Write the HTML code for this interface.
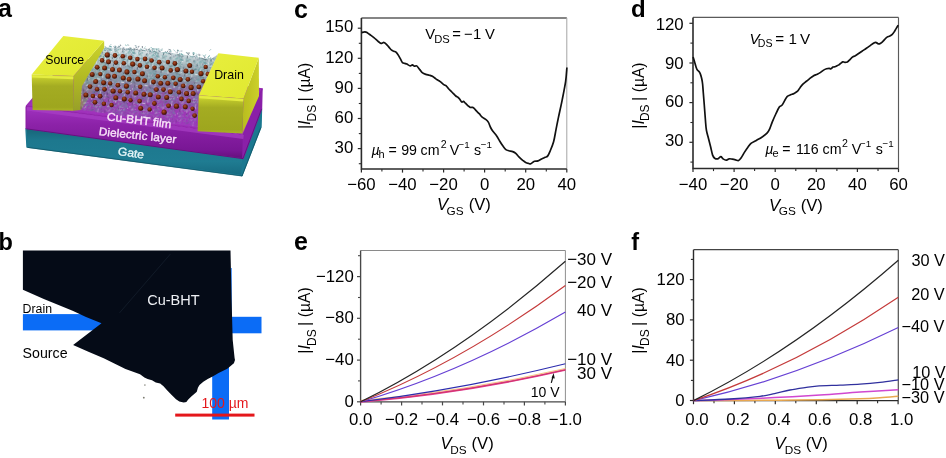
<!DOCTYPE html><html><head><meta charset="utf-8"><style>html,body{margin:0;padding:0;background:#fff;overflow:hidden;}svg{display:block;font-family:"Liberation Sans", sans-serif;will-change:transform;}</style></head><body>
<svg width="946" height="458" viewBox="0 0 946 458">
<rect width="946" height="458" fill="#fff"/>
<text x="-1.90" y="16.50" font-size="25.0" font-weight="bold">a</text>
<text x="-1.60" y="249.80" font-size="23.5" font-weight="bold">b</text>
<text x="293.90" y="17.80" font-size="25.0" font-weight="bold">c</text>
<text x="631.00" y="17.00" font-size="24.0" font-weight="bold">d</text>
<text x="293.90" y="250.00" font-size="25.0" font-weight="bold">e</text>
<text x="631.30" y="250.40" font-size="23.5" font-weight="bold">f</text>
<defs>
<linearGradient id="gTealF" x1="0" y1="0" x2="0" y2="1"><stop offset="0" stop-color="#176478"/><stop offset="0.25" stop-color="#1d788e"/><stop offset="0.7" stop-color="#1f7c92"/><stop offset="1" stop-color="#176a80"/></linearGradient>
<linearGradient id="gPurF" x1="0" y1="0" x2="0" y2="1"><stop offset="0" stop-color="#a032c0"/><stop offset="0.35" stop-color="#8c22a8"/><stop offset="0.85" stop-color="#781694"/><stop offset="1" stop-color="#640e7c"/></linearGradient>
<linearGradient id="gPurT" x1="0" y1="0" x2="0" y2="1"><stop offset="0" stop-color="#9a2db4"/><stop offset="1" stop-color="#a234be"/></linearGradient>
<linearGradient id="gYT" x1="0" y1="0" x2="1" y2="1"><stop offset="0" stop-color="#e8ef3e"/><stop offset="1" stop-color="#e0e830"/></linearGradient>
<linearGradient id="gYF" x1="0" y1="0" x2="0" y2="1"><stop offset="0" stop-color="#d8e036"/><stop offset="0.14" stop-color="#bcc42a"/><stop offset="0.32" stop-color="#a4ac22"/><stop offset="0.9" stop-color="#9ea61e"/><stop offset="1" stop-color="#acb424"/></linearGradient>
<linearGradient id="gYR" x1="0" y1="0" x2="1" y2="0"><stop offset="0" stop-color="#b8bc1e"/><stop offset="1" stop-color="#ccd02a"/></linearGradient>
<radialGradient id="gDot" cx="0.4" cy="0.35" r="0.65"><stop offset="0" stop-color="#a85028"/><stop offset="0.5" stop-color="#7c2a10"/><stop offset="0.85" stop-color="#4a1606"/><stop offset="1" stop-color="#2e0c04"/></radialGradient>
</defs>
<polygon points="26.0,128.7 243.0,158.5 242.0,175.5 27.0,147.0" fill="url(#gTealF)" stroke="#1c7890" stroke-width="1.4" stroke-linejoin="round"/>
<polygon points="243.0,158.5 261.5,109.0 261.0,127.0 242.0,175.5" fill="#1b7890" stroke="#1b7890" stroke-width="1.4" stroke-linejoin="round"/>
<polygon points="26.5,106.0 32.5,99.0 70.0,57.0 262.0,89.0 243.5,134.0" fill="url(#gPurT)" stroke="#9a2db4" stroke-width="1.5" stroke-linejoin="round"/>
<polygon points="26.0,106.5 243.5,135.0 243.0,158.5 26.0,128.7" fill="url(#gPurF)" stroke="#8a1ca2" stroke-width="1" stroke-linejoin="round"/>
<polygon points="243.5,134.5 262.0,89.0 261.5,109.0 243.0,158.5" fill="#8a20a8" stroke="#8a20a8" stroke-width="1.4" stroke-linejoin="round"/>
<path d="M26.5,128.9 L243,158.6 L261.5,109.2" stroke="#4e0c66" stroke-width="1" opacity="0.6" fill="none"/>
<path d="M27.5,147.4 L242,176 L260.8,127.5" stroke="#10505e" stroke-width="1" opacity="0.7" fill="none"/>
<path d="M27,108.5 L243.5,137" stroke="#a83ec4" stroke-width="4" opacity="0.7" fill="none"/>
<defs><linearGradient id="gYR2" gradientUnits="userSpaceOnUse" x1="0" y1="40" x2="0" y2="110"><stop offset="0" stop-color="#cdd42c"/><stop offset="0.5" stop-color="#b4bc24"/><stop offset="1" stop-color="#98a028"/></linearGradient></defs>
<polygon points="73.5,76.0 104.1,40.8 105.0,72.0 81.0,110.0 73.0,110.8" fill="url(#gYR2)" />
<defs><linearGradient id="gFilm" gradientUnits="userSpaceOnUse" x1="0" y1="44" x2="0" y2="124"><stop offset="0" stop-color="#e4ecee" stop-opacity="0.85"/><stop offset="0.25" stop-color="#aabcc2" stop-opacity="0.95"/><stop offset="0.45" stop-color="#8a96a4" stop-opacity="0.95"/><stop offset="0.62" stop-color="#8a5aa2" stop-opacity="0.85"/><stop offset="1" stop-color="#9a40b0" stop-opacity="0.0"/></linearGradient></defs>
<polygon points="82.0,86.0 104.5,47.5 128.0,48.5 150.0,50.5 180.0,54.0 210.7,59.2 218.4,54.0 198.7,95.2 197.6,127.0 170.0,123.0 140.0,118.5 110.0,114.0 80.0,110.0" fill="url(#gFilm)" />
<defs><pattern id="spk" width="24" height="18" patternUnits="userSpaceOnUse" patternTransform="rotate(8)"><line x1="5.7" y1="9.8" x2="6.7" y2="12.0" stroke="#5f9ea0" stroke-width="0.8"/><line x1="14.5" y1="16.4" x2="14.8" y2="18.6" stroke="#a8c4c4" stroke-width="0.8"/><line x1="23.9" y1="8.5" x2="22.0" y2="9.5" stroke="#7c8c9c" stroke-width="0.8"/><line x1="5.6" y1="2.7" x2="3.6" y2="3.2" stroke="#4f8f94" stroke-width="0.8"/><line x1="16.1" y1="1.2" x2="14.4" y2="2.8" stroke="#ffffff" stroke-width="0.8"/><line x1="18.7" y1="14.8" x2="20.3" y2="16.6" stroke="#6aa8a8" stroke-width="0.8"/><line x1="17.1" y1="16.6" x2="18.0" y2="19.2" stroke="#8a9aa8" stroke-width="0.8"/><line x1="23.1" y1="2.4" x2="23.7" y2="3.6" stroke="#8a9aa8" stroke-width="0.8"/><line x1="5.2" y1="17.4" x2="5.7" y2="19.8" stroke="#ffffff" stroke-width="0.8"/><line x1="10.1" y1="15.0" x2="9.6" y2="17.2" stroke="#6aa8a8" stroke-width="0.8"/><line x1="14.0" y1="16.3" x2="12.4" y2="18.8" stroke="#ffffff" stroke-width="0.8"/><line x1="23.8" y1="12.1" x2="26.3" y2="13.5" stroke="#c8dcdc" stroke-width="0.8"/><line x1="21.7" y1="10.2" x2="20.7" y2="11.5" stroke="#ffffff" stroke-width="0.8"/><line x1="6.8" y1="1.1" x2="4.0" y2="2.6" stroke="#5f9ea0" stroke-width="0.8"/><line x1="8.3" y1="1.2" x2="7.1" y2="1.6" stroke="#6aa8a8" stroke-width="0.8"/><line x1="18.5" y1="15.7" x2="20.9" y2="16.0" stroke="#4f8f94" stroke-width="0.8"/><line x1="9.1" y1="10.6" x2="8.6" y2="13.6" stroke="#ffffff" stroke-width="0.8"/><line x1="12.1" y1="18.0" x2="12.9" y2="19.1" stroke="#c8dcdc" stroke-width="0.8"/><line x1="0.8" y1="3.6" x2="1.4" y2="5.9" stroke="#7c8c9c" stroke-width="0.8"/><line x1="16.6" y1="17.6" x2="17.5" y2="19.3" stroke="#7c8c9c" stroke-width="0.8"/><line x1="21.5" y1="6.8" x2="21.8" y2="9.0" stroke="#c8dcdc" stroke-width="0.8"/><line x1="2.5" y1="17.5" x2="1.0" y2="18.5" stroke="#a8c4c4" stroke-width="0.8"/><line x1="22.5" y1="7.9" x2="23.7" y2="9.2" stroke="#3a4a58" stroke-width="0.8"/><line x1="0.3" y1="7.5" x2="-0.0" y2="8.7" stroke="#7c8c9c" stroke-width="0.8"/><line x1="1.4" y1="11.3" x2="1.7" y2="13.8" stroke="#3a4a58" stroke-width="0.8"/><line x1="14.6" y1="5.0" x2="14.7" y2="7.4" stroke="#4f8f94" stroke-width="0.8"/><line x1="23.1" y1="4.5" x2="23.4" y2="6.9" stroke="#3a4a58" stroke-width="0.8"/><line x1="4.3" y1="3.3" x2="2.2" y2="5.3" stroke="#ffffff" stroke-width="0.8"/><line x1="7.2" y1="6.8" x2="6.3" y2="7.6" stroke="#7c8c9c" stroke-width="0.8"/><line x1="7.4" y1="4.0" x2="6.1" y2="5.0" stroke="#7c8c9c" stroke-width="0.8"/><line x1="16.3" y1="11.7" x2="18.6" y2="12.4" stroke="#3a4a58" stroke-width="0.8"/><line x1="16.2" y1="4.0" x2="13.6" y2="5.8" stroke="#5f9ea0" stroke-width="0.8"/><line x1="8.1" y1="11.7" x2="6.1" y2="12.4" stroke="#a8c4c4" stroke-width="0.8"/><line x1="18.9" y1="0.6" x2="17.1" y2="0.9" stroke="#7c8c9c" stroke-width="0.8"/><line x1="20.7" y1="6.1" x2="19.6" y2="6.8" stroke="#3a4a58" stroke-width="0.8"/><line x1="14.1" y1="7.6" x2="14.0" y2="10.5" stroke="#8a9aa8" stroke-width="0.8"/><line x1="8.3" y1="7.5" x2="8.8" y2="9.5" stroke="#6aa8a8" stroke-width="0.8"/><line x1="3.7" y1="0.1" x2="0.8" y2="0.6" stroke="#c8dcdc" stroke-width="0.8"/><line x1="10.4" y1="17.1" x2="8.8" y2="17.5" stroke="#8a9aa8" stroke-width="0.8"/><line x1="20.1" y1="11.9" x2="20.0" y2="13.7" stroke="#3a4a58" stroke-width="0.8"/><line x1="21.4" y1="15.5" x2="18.5" y2="16.9" stroke="#5f9ea0" stroke-width="0.8"/><line x1="19.4" y1="0.8" x2="17.0" y2="1.6" stroke="#a8c4c4" stroke-width="0.8"/><line x1="21.5" y1="16.2" x2="21.2" y2="17.4" stroke="#5f9ea0" stroke-width="0.8"/><line x1="4.1" y1="5.4" x2="3.0" y2="7.4" stroke="#6aa8a8" stroke-width="0.8"/><line x1="1.3" y1="16.4" x2="2.6" y2="16.9" stroke="#c8dcdc" stroke-width="0.8"/><line x1="11.5" y1="14.1" x2="12.2" y2="15.5" stroke="#c8dcdc" stroke-width="0.8"/><line x1="21.3" y1="2.1" x2="22.6" y2="3.3" stroke="#7c8c9c" stroke-width="0.8"/><line x1="19.8" y1="0.1" x2="18.6" y2="2.8" stroke="#4f8f94" stroke-width="0.8"/><line x1="18.2" y1="4.5" x2="17.3" y2="6.6" stroke="#4f8f94" stroke-width="0.8"/><line x1="11.3" y1="14.0" x2="12.7" y2="14.0" stroke="#7c8c9c" stroke-width="0.8"/><line x1="1.1" y1="0.9" x2="1.2" y2="2.2" stroke="#5f9ea0" stroke-width="0.8"/><line x1="12.4" y1="8.8" x2="13.6" y2="9.5" stroke="#6aa8a8" stroke-width="0.8"/><line x1="15.5" y1="10.6" x2="16.2" y2="12.0" stroke="#3a4a58" stroke-width="0.8"/><line x1="10.3" y1="2.3" x2="12.9" y2="2.3" stroke="#5f9ea0" stroke-width="0.8"/><line x1="13.6" y1="0.8" x2="13.9" y2="3.3" stroke="#c8dcdc" stroke-width="0.8"/><line x1="9.1" y1="14.4" x2="8.3" y2="16.3" stroke="#3a4a58" stroke-width="0.8"/><line x1="15.1" y1="13.7" x2="16.8" y2="16.3" stroke="#6aa8a8" stroke-width="0.8"/><line x1="11.1" y1="4.4" x2="10.8" y2="7.0" stroke="#5f9ea0" stroke-width="0.8"/><line x1="19.3" y1="4.0" x2="20.4" y2="4.5" stroke="#3a4a58" stroke-width="0.8"/><line x1="9.0" y1="16.2" x2="7.6" y2="17.2" stroke="#8a9aa8" stroke-width="0.8"/><line x1="16.6" y1="16.9" x2="14.6" y2="19.1" stroke="#c8dcdc" stroke-width="0.8"/><line x1="19.0" y1="12.0" x2="17.5" y2="13.7" stroke="#5f9ea0" stroke-width="0.8"/><line x1="19.5" y1="12.9" x2="19.6" y2="14.6" stroke="#6aa8a8" stroke-width="0.8"/><line x1="1.1" y1="1.7" x2="3.9" y2="2.6" stroke="#7c8c9c" stroke-width="0.8"/><line x1="19.7" y1="6.1" x2="18.5" y2="6.7" stroke="#5f9ea0" stroke-width="0.8"/><line x1="16.2" y1="15.1" x2="13.8" y2="15.4" stroke="#5f9ea0" stroke-width="0.8"/><line x1="0.9" y1="13.8" x2="0.8" y2="16.4" stroke="#5f9ea0" stroke-width="0.8"/><line x1="13.3" y1="1.8" x2="12.9" y2="4.1" stroke="#7c8c9c" stroke-width="0.8"/><line x1="19.9" y1="4.4" x2="21.3" y2="5.3" stroke="#6aa8a8" stroke-width="0.8"/><line x1="6.1" y1="10.8" x2="3.8" y2="11.2" stroke="#5f9ea0" stroke-width="0.8"/><line x1="9.0" y1="4.2" x2="6.2" y2="4.9" stroke="#7c8c9c" stroke-width="0.8"/><line x1="10.0" y1="10.2" x2="9.2" y2="13.2" stroke="#8a9aa8" stroke-width="0.8"/><line x1="3.7" y1="7.2" x2="2.3" y2="7.7" stroke="#8a9aa8" stroke-width="0.8"/><line x1="18.0" y1="16.5" x2="17.8" y2="18.6" stroke="#7c8c9c" stroke-width="0.8"/><line x1="3.3" y1="13.5" x2="5.3" y2="14.5" stroke="#a8c4c4" stroke-width="0.8"/><line x1="20.4" y1="9.7" x2="18.5" y2="11.3" stroke="#6aa8a8" stroke-width="0.8"/><line x1="14.3" y1="10.5" x2="11.3" y2="10.7" stroke="#ffffff" stroke-width="0.8"/><line x1="0.6" y1="8.6" x2="1.1" y2="10.1" stroke="#3a4a58" stroke-width="0.8"/><line x1="5.7" y1="8.7" x2="3.9" y2="9.5" stroke="#8a9aa8" stroke-width="0.8"/><line x1="16.8" y1="3.7" x2="16.1" y2="6.6" stroke="#c8dcdc" stroke-width="0.8"/><line x1="0.7" y1="17.9" x2="3.7" y2="18.6" stroke="#4f8f94" stroke-width="0.8"/><line x1="11.2" y1="4.1" x2="13.2" y2="5.9" stroke="#5f9ea0" stroke-width="0.8"/><line x1="23.0" y1="15.4" x2="24.2" y2="16.5" stroke="#ffffff" stroke-width="0.8"/><line x1="3.3" y1="11.2" x2="2.6" y2="12.3" stroke="#ffffff" stroke-width="0.8"/><line x1="4.1" y1="0.8" x2="5.2" y2="1.6" stroke="#5f9ea0" stroke-width="0.8"/><line x1="2.8" y1="4.8" x2="1.6" y2="5.1" stroke="#8a9aa8" stroke-width="0.8"/><line x1="13.9" y1="12.2" x2="15.8" y2="12.2" stroke="#6aa8a8" stroke-width="0.8"/><line x1="9.1" y1="1.4" x2="7.9" y2="3.8" stroke="#8a9aa8" stroke-width="0.8"/><line x1="9.4" y1="9.8" x2="11.0" y2="10.4" stroke="#6aa8a8" stroke-width="0.8"/><line x1="2.7" y1="16.0" x2="1.4" y2="16.4" stroke="#3a4a58" stroke-width="0.8"/><line x1="16.3" y1="6.6" x2="16.7" y2="9.1" stroke="#ffffff" stroke-width="0.8"/><line x1="2.6" y1="17.0" x2="3.7" y2="19.0" stroke="#c8dcdc" stroke-width="0.8"/><line x1="2.7" y1="8.9" x2="3.9" y2="11.2" stroke="#7c8c9c" stroke-width="0.8"/><line x1="15.5" y1="13.1" x2="17.2" y2="14.0" stroke="#8a9aa8" stroke-width="0.8"/><line x1="3.0" y1="16.8" x2="4.6" y2="17.6" stroke="#6aa8a8" stroke-width="0.8"/><line x1="13.3" y1="11.7" x2="13.6" y2="13.5" stroke="#7c8c9c" stroke-width="0.8"/><line x1="16.9" y1="1.9" x2="18.9" y2="3.2" stroke="#6aa8a8" stroke-width="0.8"/><line x1="8.6" y1="4.8" x2="9.7" y2="7.5" stroke="#4f8f94" stroke-width="0.8"/><line x1="11.5" y1="4.9" x2="10.2" y2="6.7" stroke="#3a4a58" stroke-width="0.8"/><line x1="22.7" y1="8.1" x2="21.6" y2="8.8" stroke="#8a9aa8" stroke-width="0.8"/><line x1="20.3" y1="2.0" x2="21.2" y2="3.1" stroke="#5f9ea0" stroke-width="0.8"/><line x1="13.5" y1="16.4" x2="16.0" y2="17.3" stroke="#6aa8a8" stroke-width="0.8"/><line x1="16.1" y1="7.0" x2="14.6" y2="7.1" stroke="#7c8c9c" stroke-width="0.8"/><line x1="20.6" y1="14.4" x2="20.4" y2="15.9" stroke="#7c8c9c" stroke-width="0.8"/><line x1="4.8" y1="4.5" x2="3.9" y2="5.3" stroke="#8a9aa8" stroke-width="0.8"/><line x1="21.4" y1="17.1" x2="22.2" y2="19.2" stroke="#ffffff" stroke-width="0.8"/><line x1="15.2" y1="17.6" x2="14.2" y2="19.1" stroke="#8a9aa8" stroke-width="0.8"/><line x1="0.7" y1="3.4" x2="0.1" y2="4.7" stroke="#a8c4c4" stroke-width="0.8"/><line x1="11.8" y1="9.4" x2="12.0" y2="11.0" stroke="#c8dcdc" stroke-width="0.8"/><line x1="5.1" y1="14.6" x2="2.1" y2="15.3" stroke="#5f9ea0" stroke-width="0.8"/><line x1="13.6" y1="17.3" x2="12.2" y2="17.8" stroke="#5f9ea0" stroke-width="0.8"/><line x1="15.0" y1="0.9" x2="15.7" y2="2.4" stroke="#5f9ea0" stroke-width="0.8"/><line x1="12.0" y1="0.3" x2="12.9" y2="2.0" stroke="#3a4a58" stroke-width="0.8"/><line x1="16.7" y1="2.4" x2="14.5" y2="3.5" stroke="#4f8f94" stroke-width="0.8"/><line x1="17.2" y1="13.3" x2="18.5" y2="15.8" stroke="#5f9ea0" stroke-width="0.8"/><line x1="20.7" y1="7.9" x2="19.1" y2="9.4" stroke="#5f9ea0" stroke-width="0.8"/><line x1="18.9" y1="7.4" x2="16.6" y2="8.6" stroke="#6aa8a8" stroke-width="0.8"/><line x1="11.9" y1="12.6" x2="11.7" y2="14.6" stroke="#8a9aa8" stroke-width="0.8"/><line x1="7.3" y1="8.4" x2="5.9" y2="9.7" stroke="#7c8c9c" stroke-width="0.8"/><line x1="10.9" y1="0.7" x2="12.9" y2="2.8" stroke="#8a9aa8" stroke-width="0.8"/></pattern><linearGradient id="gFade" gradientUnits="userSpaceOnUse" x1="0" y1="44" x2="0" y2="126"><stop offset="0" stop-color="#fff"/><stop offset="0.6" stop-color="#fff" stop-opacity="0.9"/><stop offset="1" stop-color="#fff" stop-opacity="0.35"/></linearGradient><mask id="mFade"><rect x="60" y="30" width="170" height="110" fill="url(#gFade)"/></mask></defs>
<g mask="url(#mFade)"><polygon points="82.0,86.0 104.5,47.5 128.0,48.5 150.0,50.5 180.0,54.0 210.7,59.2 218.4,54.0 198.7,95.2 197.6,127.0 170.0,123.0 140.0,118.5 110.0,114.0 80.0,110.0" fill="url(#spk)" opacity="0.95"/></g>
<line x1="161.2" y1="49.8" x2="161.9" y2="50.5" stroke="#9fb8bc" stroke-width="0.75"/><line x1="131.9" y1="48.0" x2="130.3" y2="48.8" stroke="#9fb8bc" stroke-width="0.75"/><line x1="126.6" y1="48.6" x2="127.0" y2="49.8" stroke="#5f8f94" stroke-width="0.75"/><line x1="119.0" y1="46.1" x2="119.3" y2="47.4" stroke="#5f8f94" stroke-width="0.75"/><line x1="147.5" y1="49.7" x2="149.7" y2="49.9" stroke="#9fb8bc" stroke-width="0.75"/><line x1="147.6" y1="49.3" x2="150.1" y2="49.5" stroke="#9fb8bc" stroke-width="0.75"/><line x1="130.1" y1="47.7" x2="131.4" y2="48.6" stroke="#5f8f94" stroke-width="0.75"/><line x1="141.4" y1="50.1" x2="143.5" y2="50.5" stroke="#5a6a76" stroke-width="0.75"/><line x1="210.0" y1="55.4" x2="208.0" y2="56.9" stroke="#6aa8a8" stroke-width="0.75"/><line x1="131.0" y1="48.4" x2="129.3" y2="49.5" stroke="#5a6a76" stroke-width="0.75"/><line x1="138.2" y1="50.1" x2="138.5" y2="51.3" stroke="#8a9aa8" stroke-width="0.75"/><line x1="104.4" y1="50.3" x2="105.6" y2="50.6" stroke="#5f8f94" stroke-width="0.75"/><line x1="156.0" y1="51.3" x2="156.0" y2="52.8" stroke="#6aa8a8" stroke-width="0.75"/><line x1="140.7" y1="48.3" x2="141.6" y2="50.1" stroke="#6aa8a8" stroke-width="0.75"/><line x1="136.9" y1="47.3" x2="135.8" y2="47.5" stroke="#5a6a76" stroke-width="0.75"/><line x1="123.9" y1="47.3" x2="123.8" y2="49.1" stroke="#8a9aa8" stroke-width="0.75"/><line x1="177.4" y1="50.1" x2="179.3" y2="51.2" stroke="#6aa8a8" stroke-width="0.75"/><line x1="194.3" y1="54.6" x2="192.7" y2="55.0" stroke="#6aa8a8" stroke-width="0.75"/><line x1="151.4" y1="49.4" x2="150.4" y2="50.7" stroke="#9fb8bc" stroke-width="0.75"/><line x1="158.8" y1="48.8" x2="156.7" y2="49.3" stroke="#6aa8a8" stroke-width="0.75"/><line x1="108.6" y1="47.8" x2="107.0" y2="49.4" stroke="#5f8f94" stroke-width="0.75"/><line x1="185.9" y1="52.6" x2="187.2" y2="53.0" stroke="#5f8f94" stroke-width="0.75"/><line x1="198.9" y1="53.8" x2="199.3" y2="56.2" stroke="#5a6a76" stroke-width="0.75"/><line x1="211.7" y1="58.2" x2="213.5" y2="59.5" stroke="#5f8f94" stroke-width="0.75"/><line x1="140.6" y1="49.1" x2="140.9" y2="51.4" stroke="#9fb8bc" stroke-width="0.75"/><line x1="130.0" y1="49.4" x2="131.8" y2="50.4" stroke="#8a9aa8" stroke-width="0.75"/><line x1="210.4" y1="59.6" x2="211.2" y2="60.6" stroke="#8a9aa8" stroke-width="0.75"/><line x1="159.7" y1="50.1" x2="158.2" y2="50.5" stroke="#8a9aa8" stroke-width="0.75"/><line x1="188.5" y1="54.1" x2="188.1" y2="55.1" stroke="#5f8f94" stroke-width="0.75"/><line x1="168.6" y1="49.4" x2="171.0" y2="50.2" stroke="#5a6a76" stroke-width="0.75"/><line x1="113.3" y1="46.5" x2="115.0" y2="48.0" stroke="#8a9aa8" stroke-width="0.75"/><line x1="115.8" y1="46.6" x2="114.7" y2="48.4" stroke="#6aa8a8" stroke-width="0.75"/><line x1="169.1" y1="51.5" x2="171.3" y2="52.3" stroke="#8a9aa8" stroke-width="0.75"/><line x1="151.9" y1="49.8" x2="152.9" y2="50.2" stroke="#5a6a76" stroke-width="0.75"/><line x1="182.6" y1="55.1" x2="183.4" y2="56.6" stroke="#5f8f94" stroke-width="0.75"/><line x1="203.8" y1="55.6" x2="204.7" y2="57.7" stroke="#5f8f94" stroke-width="0.75"/><line x1="169.4" y1="52.7" x2="170.6" y2="55.0" stroke="#5a6a76" stroke-width="0.75"/><line x1="129.5" y1="47.4" x2="130.6" y2="48.5" stroke="#9fb8bc" stroke-width="0.75"/><line x1="182.4" y1="51.0" x2="180.5" y2="51.1" stroke="#8a9aa8" stroke-width="0.75"/><line x1="196.1" y1="55.9" x2="197.7" y2="57.0" stroke="#6aa8a8" stroke-width="0.75"/><line x1="156.3" y1="48.4" x2="157.0" y2="50.9" stroke="#5f8f94" stroke-width="0.75"/><line x1="135.5" y1="45.5" x2="136.5" y2="46.1" stroke="#9fb8bc" stroke-width="0.75"/><line x1="135.8" y1="47.6" x2="135.3" y2="48.6" stroke="#9fb8bc" stroke-width="0.75"/><line x1="133.8" y1="47.9" x2="134.8" y2="49.8" stroke="#5a6a76" stroke-width="0.75"/><line x1="119.4" y1="46.9" x2="117.8" y2="47.4" stroke="#9fb8bc" stroke-width="0.75"/><line x1="120.5" y1="45.4" x2="119.0" y2="47.4" stroke="#5a6a76" stroke-width="0.75"/><line x1="205.8" y1="57.2" x2="204.1" y2="57.5" stroke="#8a9aa8" stroke-width="0.75"/><line x1="128.0" y1="44.7" x2="128.7" y2="45.5" stroke="#5a6a76" stroke-width="0.75"/><line x1="199.8" y1="54.3" x2="200.6" y2="55.4" stroke="#8a9aa8" stroke-width="0.75"/><line x1="105.1" y1="47.9" x2="104.9" y2="49.7" stroke="#9fb8bc" stroke-width="0.75"/><line x1="206.6" y1="59.5" x2="204.3" y2="59.6" stroke="#5a6a76" stroke-width="0.75"/><line x1="209.8" y1="56.1" x2="208.7" y2="56.2" stroke="#9fb8bc" stroke-width="0.75"/><line x1="129.8" y1="48.3" x2="127.6" y2="49.0" stroke="#8a9aa8" stroke-width="0.75"/><line x1="163.0" y1="52.5" x2="163.7" y2="53.7" stroke="#6aa8a8" stroke-width="0.75"/><line x1="149.2" y1="50.1" x2="150.8" y2="50.4" stroke="#9fb8bc" stroke-width="0.75"/><line x1="202.6" y1="54.8" x2="203.4" y2="55.6" stroke="#6aa8a8" stroke-width="0.75"/><line x1="159.0" y1="48.4" x2="158.7" y2="49.8" stroke="#9fb8bc" stroke-width="0.75"/><line x1="108.9" y1="46.3" x2="111.2" y2="46.7" stroke="#6aa8a8" stroke-width="0.75"/><line x1="154.5" y1="48.7" x2="152.2" y2="49.2" stroke="#8a9aa8" stroke-width="0.75"/><line x1="159.6" y1="50.8" x2="159.1" y2="52.1" stroke="#5f8f94" stroke-width="0.75"/><line x1="177.8" y1="49.8" x2="177.6" y2="51.4" stroke="#5a6a76" stroke-width="0.75"/><line x1="152.0" y1="50.3" x2="153.0" y2="51.4" stroke="#8a9aa8" stroke-width="0.75"/><line x1="120.8" y1="47.6" x2="120.7" y2="49.3" stroke="#9fb8bc" stroke-width="0.75"/><line x1="193.4" y1="52.6" x2="193.0" y2="53.6" stroke="#8a9aa8" stroke-width="0.75"/><line x1="168.6" y1="53.1" x2="170.6" y2="53.9" stroke="#5a6a76" stroke-width="0.75"/><line x1="115.1" y1="45.6" x2="115.8" y2="47.3" stroke="#6aa8a8" stroke-width="0.75"/><line x1="125.1" y1="44.8" x2="126.4" y2="45.6" stroke="#6aa8a8" stroke-width="0.75"/><line x1="138.1" y1="49.1" x2="135.7" y2="49.5" stroke="#5a6a76" stroke-width="0.75"/><line x1="169.9" y1="51.1" x2="171.6" y2="51.2" stroke="#6aa8a8" stroke-width="0.75"/><line x1="209.9" y1="59.7" x2="210.8" y2="60.5" stroke="#5f8f94" stroke-width="0.75"/><line x1="179.4" y1="54.4" x2="178.9" y2="55.5" stroke="#5f8f94" stroke-width="0.75"/><line x1="205.7" y1="54.5" x2="204.8" y2="55.9" stroke="#6aa8a8" stroke-width="0.75"/><line x1="153.9" y1="50.5" x2="153.6" y2="51.8" stroke="#6aa8a8" stroke-width="0.75"/><line x1="207.4" y1="58.9" x2="206.2" y2="59.3" stroke="#6aa8a8" stroke-width="0.75"/><line x1="176.9" y1="51.4" x2="177.8" y2="51.9" stroke="#9fb8bc" stroke-width="0.75"/><line x1="137.6" y1="47.1" x2="138.7" y2="47.6" stroke="#8a9aa8" stroke-width="0.75"/><line x1="207.8" y1="57.0" x2="208.2" y2="58.1" stroke="#6aa8a8" stroke-width="0.75"/><line x1="123.6" y1="49.2" x2="124.8" y2="49.6" stroke="#5a6a76" stroke-width="0.75"/><line x1="117.7" y1="47.3" x2="116.6" y2="47.6" stroke="#9fb8bc" stroke-width="0.75"/><line x1="104.8" y1="46.7" x2="106.4" y2="47.4" stroke="#5f8f94" stroke-width="0.75"/><line x1="142.3" y1="46.0" x2="142.4" y2="48.2" stroke="#5a6a76" stroke-width="0.75"/><line x1="155.1" y1="48.4" x2="154.8" y2="50.7" stroke="#6aa8a8" stroke-width="0.75"/><line x1="165.4" y1="51.0" x2="165.2" y2="52.7" stroke="#8a9aa8" stroke-width="0.75"/><line x1="153.3" y1="50.0" x2="152.2" y2="51.0" stroke="#9fb8bc" stroke-width="0.75"/><line x1="136.5" y1="46.0" x2="135.0" y2="46.2" stroke="#9fb8bc" stroke-width="0.75"/><line x1="118.1" y1="46.1" x2="120.0" y2="46.4" stroke="#9fb8bc" stroke-width="0.75"/><line x1="116.4" y1="48.9" x2="114.3" y2="49.8" stroke="#8a9aa8" stroke-width="0.75"/><line x1="178.0" y1="52.1" x2="177.2" y2="52.9" stroke="#8a9aa8" stroke-width="0.75"/><line x1="166.7" y1="51.8" x2="166.4" y2="53.1" stroke="#6aa8a8" stroke-width="0.75"/><line x1="158.7" y1="50.6" x2="159.5" y2="52.0" stroke="#8a9aa8" stroke-width="0.75"/><line x1="187.3" y1="52.6" x2="188.3" y2="54.5" stroke="#5a6a76" stroke-width="0.75"/><line x1="135.0" y1="45.3" x2="135.8" y2="46.1" stroke="#8a9aa8" stroke-width="0.75"/><line x1="127.9" y1="44.5" x2="127.0" y2="45.6" stroke="#6aa8a8" stroke-width="0.75"/><line x1="208.4" y1="57.6" x2="208.6" y2="59.4" stroke="#9fb8bc" stroke-width="0.75"/><line x1="210.5" y1="57.5" x2="210.9" y2="59.5" stroke="#5f8f94" stroke-width="0.75"/><line x1="149.1" y1="48.7" x2="148.6" y2="50.0" stroke="#9fb8bc" stroke-width="0.75"/><line x1="196.3" y1="55.8" x2="194.7" y2="55.9" stroke="#9fb8bc" stroke-width="0.75"/><line x1="110.0" y1="46.3" x2="112.0" y2="47.0" stroke="#6aa8a8" stroke-width="0.75"/><line x1="180.8" y1="53.3" x2="181.9" y2="54.8" stroke="#6aa8a8" stroke-width="0.75"/><line x1="151.4" y1="47.1" x2="150.8" y2="48.1" stroke="#6aa8a8" stroke-width="0.75"/><line x1="119.8" y1="48.1" x2="120.6" y2="49.9" stroke="#9fb8bc" stroke-width="0.75"/><line x1="199.6" y1="57.3" x2="199.9" y2="58.6" stroke="#5f8f94" stroke-width="0.75"/><line x1="162.2" y1="48.3" x2="162.0" y2="50.5" stroke="#9fb8bc" stroke-width="0.75"/><line x1="151.7" y1="48.3" x2="153.9" y2="49.2" stroke="#6aa8a8" stroke-width="0.75"/><line x1="128.3" y1="48.8" x2="129.4" y2="50.4" stroke="#5f8f94" stroke-width="0.75"/><line x1="192.9" y1="54.2" x2="194.0" y2="54.5" stroke="#5a6a76" stroke-width="0.75"/><line x1="145.3" y1="48.6" x2="143.6" y2="48.7" stroke="#9fb8bc" stroke-width="0.75"/><line x1="146.0" y1="48.6" x2="146.4" y2="50.5" stroke="#5a6a76" stroke-width="0.75"/><line x1="151.1" y1="51.1" x2="149.0" y2="51.3" stroke="#5f8f94" stroke-width="0.75"/><line x1="111.0" y1="44.4" x2="109.9" y2="45.5" stroke="#5f8f94" stroke-width="0.75"/><line x1="139.0" y1="45.9" x2="138.6" y2="47.0" stroke="#5a6a76" stroke-width="0.75"/><line x1="173.6" y1="49.8" x2="174.7" y2="50.8" stroke="#6aa8a8" stroke-width="0.75"/><line x1="207.5" y1="59.4" x2="207.3" y2="61.8" stroke="#8a9aa8" stroke-width="0.75"/><line x1="160.6" y1="49.9" x2="161.9" y2="50.2" stroke="#6aa8a8" stroke-width="0.75"/><line x1="193.0" y1="52.6" x2="193.5" y2="54.1" stroke="#6aa8a8" stroke-width="0.75"/><line x1="175.4" y1="51.8" x2="176.6" y2="52.7" stroke="#8a9aa8" stroke-width="0.75"/><line x1="118.4" y1="46.4" x2="117.8" y2="47.9" stroke="#8a9aa8" stroke-width="0.75"/><line x1="196.6" y1="54.1" x2="197.5" y2="54.8" stroke="#6aa8a8" stroke-width="0.75"/><line x1="196.6" y1="54.7" x2="196.7" y2="57.0" stroke="#9fb8bc" stroke-width="0.75"/><line x1="192.9" y1="52.5" x2="195.1" y2="53.4" stroke="#6aa8a8" stroke-width="0.75"/><line x1="195.0" y1="56.0" x2="193.9" y2="57.0" stroke="#9fb8bc" stroke-width="0.75"/><line x1="145.5" y1="46.8" x2="144.6" y2="47.4" stroke="#6aa8a8" stroke-width="0.75"/><line x1="143.6" y1="49.8" x2="144.6" y2="51.0" stroke="#5f8f94" stroke-width="0.75"/><line x1="179.0" y1="53.2" x2="180.2" y2="53.6" stroke="#6aa8a8" stroke-width="0.75"/><line x1="122.7" y1="48.4" x2="122.7" y2="49.8" stroke="#5a6a76" stroke-width="0.75"/><line x1="169.8" y1="52.9" x2="168.7" y2="54.1" stroke="#8a9aa8" stroke-width="0.75"/><line x1="149.8" y1="50.6" x2="150.8" y2="51.9" stroke="#5f8f94" stroke-width="0.75"/><line x1="189.0" y1="52.2" x2="189.0" y2="54.1" stroke="#5a6a76" stroke-width="0.75"/><line x1="160.1" y1="50.6" x2="160.2" y2="52.2" stroke="#8a9aa8" stroke-width="0.75"/><line x1="210.5" y1="58.4" x2="208.7" y2="58.5" stroke="#9fb8bc" stroke-width="0.75"/><line x1="116.4" y1="46.9" x2="115.3" y2="47.4" stroke="#5a6a76" stroke-width="0.75"/><line x1="115.6" y1="46.3" x2="114.1" y2="47.1" stroke="#8a9aa8" stroke-width="0.75"/><line x1="120.4" y1="44.6" x2="120.8" y2="45.6" stroke="#5a6a76" stroke-width="0.75"/><line x1="193.0" y1="56.2" x2="195.1" y2="56.8" stroke="#8a9aa8" stroke-width="0.75"/><line x1="168.0" y1="50.7" x2="167.3" y2="51.9" stroke="#5a6a76" stroke-width="0.75"/><line x1="210.8" y1="49.4" x2="209.7" y2="50.5" stroke="#5f8f94" stroke-width="0.75"/><line x1="149.7" y1="48.7" x2="148.4" y2="49.8" stroke="#5a6a76" stroke-width="0.75"/><line x1="165.3" y1="52.0" x2="164.1" y2="53.6" stroke="#6aa8a8" stroke-width="0.75"/><line x1="181.0" y1="53.6" x2="183.2" y2="54.8" stroke="#6aa8a8" stroke-width="0.75"/><line x1="122.6" y1="47.3" x2="124.0" y2="48.3" stroke="#8a9aa8" stroke-width="0.75"/>
<circle cx="92.2" cy="74.4" r="2.5" fill="url(#gDot)"/><circle cx="90.0" cy="86.6" r="2.4" fill="url(#gDot)"/><circle cx="85.9" cy="94.9" r="2.5" fill="url(#gDot)"/><circle cx="102.1" cy="60.4" r="2.3" fill="url(#gDot)"/><circle cx="97.2" cy="67.3" r="2.4" fill="url(#gDot)"/><circle cx="100.3" cy="74.1" r="2.2" fill="url(#gDot)"/><circle cx="95.7" cy="81.6" r="2.5" fill="url(#gDot)"/><circle cx="97.1" cy="89.2" r="2.3" fill="url(#gDot)"/><circle cx="92.9" cy="96.0" r="2.3" fill="url(#gDot)"/><circle cx="95.0" cy="102.3" r="2.4" fill="url(#gDot)"/><circle cx="107.3" cy="54.9" r="2.6" fill="url(#gDot)"/><circle cx="108.5" cy="61.8" r="2.5" fill="url(#gDot)"/><circle cx="104.6" cy="67.9" r="2.5" fill="url(#gDot)"/><circle cx="108.0" cy="76.2" r="2.6" fill="url(#gDot)"/><circle cx="103.6" cy="82.7" r="2.5" fill="url(#gDot)"/><circle cx="104.5" cy="89.3" r="2.4" fill="url(#gDot)"/><circle cx="100.1" cy="96.2" r="2.4" fill="url(#gDot)"/><circle cx="103.9" cy="103.7" r="2.3" fill="url(#gDot)"/><circle cx="115.0" cy="55.5" r="2.4" fill="url(#gDot)"/><circle cx="115.9" cy="62.6" r="2.3" fill="url(#gDot)"/><circle cx="112.5" cy="69.6" r="2.5" fill="url(#gDot)"/><circle cx="114.5" cy="76.3" r="2.5" fill="url(#gDot)"/><circle cx="110.2" cy="83.4" r="2.2" fill="url(#gDot)"/><circle cx="113.1" cy="91.0" r="2.6" fill="url(#gDot)"/><circle cx="111.6" cy="105.0" r="2.2" fill="url(#gDot)"/><circle cx="122.8" cy="56.3" r="2.3" fill="url(#gDot)"/><circle cx="123.8" cy="63.3" r="2.3" fill="url(#gDot)"/><circle cx="119.4" cy="70.1" r="2.5" fill="url(#gDot)"/><circle cx="123.3" cy="78.0" r="2.5" fill="url(#gDot)"/><circle cx="117.9" cy="85.2" r="2.4" fill="url(#gDot)"/><circle cx="120.0" cy="91.3" r="2.2" fill="url(#gDot)"/><circle cx="115.8" cy="97.8" r="2.5" fill="url(#gDot)"/><circle cx="130.2" cy="57.8" r="2.3" fill="url(#gDot)"/><circle cx="132.7" cy="64.1" r="2.6" fill="url(#gDot)"/><circle cx="126.9" cy="71.9" r="2.6" fill="url(#gDot)"/><circle cx="129.1" cy="79.2" r="2.5" fill="url(#gDot)"/><circle cx="126.4" cy="86.1" r="2.6" fill="url(#gDot)"/><circle cx="127.7" cy="92.2" r="2.3" fill="url(#gDot)"/><circle cx="124.3" cy="98.9" r="2.5" fill="url(#gDot)"/><circle cx="137.4" cy="59.1" r="2.3" fill="url(#gDot)"/><circle cx="139.9" cy="65.4" r="2.3" fill="url(#gDot)"/><circle cx="134.4" cy="72.0" r="2.3" fill="url(#gDot)"/><circle cx="137.9" cy="79.0" r="2.6" fill="url(#gDot)"/><circle cx="135.7" cy="92.9" r="2.5" fill="url(#gDot)"/><circle cx="130.5" cy="100.2" r="2.2" fill="url(#gDot)"/><circle cx="145.1" cy="58.9" r="2.4" fill="url(#gDot)"/><circle cx="147.0" cy="66.8" r="2.3" fill="url(#gDot)"/><circle cx="142.4" cy="73.8" r="2.5" fill="url(#gDot)"/><circle cx="144.6" cy="80.7" r="2.5" fill="url(#gDot)"/><circle cx="140.3" cy="86.8" r="2.3" fill="url(#gDot)"/><circle cx="144.0" cy="94.2" r="2.5" fill="url(#gDot)"/><circle cx="139.6" cy="101.1" r="2.4" fill="url(#gDot)"/><circle cx="140.7" cy="108.3" r="2.5" fill="url(#gDot)"/><circle cx="151.6" cy="60.5" r="2.3" fill="url(#gDot)"/><circle cx="154.5" cy="67.7" r="2.3" fill="url(#gDot)"/><circle cx="153.5" cy="82.0" r="2.4" fill="url(#gDot)"/><circle cx="150.2" cy="94.8" r="2.5" fill="url(#gDot)"/><circle cx="149.6" cy="109.4" r="2.2" fill="url(#gDot)"/><circle cx="159.2" cy="62.2" r="2.4" fill="url(#gDot)"/><circle cx="162.1" cy="68.0" r="2.5" fill="url(#gDot)"/><circle cx="157.8" cy="76.3" r="2.3" fill="url(#gDot)"/><circle cx="160.7" cy="83.3" r="2.5" fill="url(#gDot)"/><circle cx="156.3" cy="89.6" r="2.4" fill="url(#gDot)"/><circle cx="158.3" cy="96.9" r="2.5" fill="url(#gDot)"/><circle cx="154.4" cy="103.5" r="2.4" fill="url(#gDot)"/><circle cx="168.0" cy="62.0" r="2.2" fill="url(#gDot)"/><circle cx="170.7" cy="70.4" r="2.3" fill="url(#gDot)"/><circle cx="164.9" cy="77.2" r="2.2" fill="url(#gDot)"/><circle cx="167.8" cy="83.3" r="2.5" fill="url(#gDot)"/><circle cx="163.5" cy="89.6" r="2.4" fill="url(#gDot)"/><circle cx="166.7" cy="97.4" r="2.5" fill="url(#gDot)"/><circle cx="164.1" cy="112.2" r="2.6" fill="url(#gDot)"/><circle cx="174.9" cy="63.5" r="2.4" fill="url(#gDot)"/><circle cx="177.4" cy="69.6" r="2.6" fill="url(#gDot)"/><circle cx="173.3" cy="77.8" r="2.4" fill="url(#gDot)"/><circle cx="175.6" cy="83.7" r="2.3" fill="url(#gDot)"/><circle cx="170.3" cy="91.8" r="2.5" fill="url(#gDot)"/><circle cx="168.5" cy="105.8" r="2.4" fill="url(#gDot)"/><circle cx="185.9" cy="71.0" r="2.5" fill="url(#gDot)"/><circle cx="180.2" cy="79.4" r="2.5" fill="url(#gDot)"/><circle cx="183.2" cy="85.9" r="2.3" fill="url(#gDot)"/><circle cx="179.0" cy="92.2" r="2.3" fill="url(#gDot)"/><circle cx="181.5" cy="98.9" r="2.3" fill="url(#gDot)"/><circle cx="176.4" cy="106.2" r="2.6" fill="url(#gDot)"/><circle cx="189.7" cy="65.5" r="2.5" fill="url(#gDot)"/><circle cx="192.0" cy="71.7" r="2.2" fill="url(#gDot)"/><circle cx="187.9" cy="79.3" r="2.4" fill="url(#gDot)"/><circle cx="191.1" cy="87.4" r="2.6" fill="url(#gDot)"/><circle cx="186.6" cy="93.5" r="2.6" fill="url(#gDot)"/><circle cx="188.7" cy="100.9" r="2.3" fill="url(#gDot)"/><circle cx="185.3" cy="106.8" r="2.5" fill="url(#gDot)"/><circle cx="201.0" cy="73.6" r="2.6" fill="url(#gDot)"/><circle cx="198.8" cy="86.9" r="2.4" fill="url(#gDot)"/><circle cx="193.2" cy="93.6" r="2.5" fill="url(#gDot)"/><circle cx="192.5" cy="108.7" r="2.2" fill="url(#gDot)"/><circle cx="194.6" cy="115.6" r="2.4" fill="url(#gDot)"/><circle cx="205.7" cy="66.9" r="2.2" fill="url(#gDot)"/><circle cx="207.9" cy="74.1" r="2.4" fill="url(#gDot)"/><circle cx="203.2" cy="81.2" r="2.3" fill="url(#gDot)"/>
<polygon points="31.7,74.5 73.5,76.0 104.1,40.8 63.3,35.9" fill="url(#gYT)" />
<polygon points="31.7,74.5 73.5,76.0 73.0,110.8 32.6,110.0" fill="url(#gYF)" />
<path d="M32.2,76.4 L73.3,78.0" stroke="#e4ec40" stroke-width="2.4" fill="none"/>
<polygon points="243.5,98.5 258.8,57.7 259.0,96.0 242.4,133.4" fill="url(#gYR)" />
<polygon points="198.7,95.2 243.5,98.5 258.8,57.7 218.4,53.3" fill="url(#gYT)" />
<polygon points="198.7,95.2 243.5,98.5 242.4,133.4 197.6,131.2" fill="url(#gYF)" />
<path d="M199.2,97.0 L243.3,100.3" stroke="#e4ec40" stroke-width="2.4" fill="none"/>
<text x="45.24" y="63.80" font-size="12.30" fill="#000">Source</text>
<text x="214.18" y="78.70" font-size="12.40" fill="#000">Drain</text>
<text transform="translate(106.60,120.20) rotate(7.00) scale(1.050,1)" font-size="11.40" fill="#f8e4f8" stroke="#f8e4f8" stroke-width="0.35">Cu-BHT film</text>
<text transform="translate(98.60,135.00) rotate(6.10) scale(1.050,1)" font-size="11.30" fill="#f8e4f8" stroke="#f8e4f8" stroke-width="0.35">Dielectric layer</text>
<text transform="translate(117.60,155.00) rotate(8.00) scale(1.050,1)" font-size="11.50" fill="#e6f6f8" stroke="#e6f6f8" stroke-width="0.35">Gate</text>
<rect x="22.9" y="314.1" width="82" height="16.3" fill="#0b6cf6"/>
<rect x="226" y="316.8" width="35.5" height="16.5" fill="#0b6cf6"/>
<rect x="212.2" y="330" width="16.8" height="89.5" fill="#0b6cf6"/>
<rect x="230.8" y="268" width="1.1" height="48" fill="#0b6cf6" opacity="0.75"/>
<polygon points="22.9,250.5 230.5,250.5 231.6,300.0 232.7,340.0 234.6,358.0 235.0,360.0 233.9,363.3 227.3,368.7 218.6,373.1 212.6,376.4 207.7,379.1 203.3,381.8 199.5,385.1 197.9,387.8 196.8,391.7 195.1,393.3 191.3,396.6 188.0,399.8 186.4,402.0 183.7,402.6 179.3,401.5 176.0,399.3 171.7,394.9 167.3,390.6 163.5,386.2 160.2,383.5 155.8,382.4 152.0,380.2 147.6,379.1 144.4,377.5 140.0,374.2 125.5,369.1 103.7,358.2 88.4,351.7 73.1,345.1 101.5,323.3 86.0,317.0 72.6,310.7 43.8,299.0 22.9,289.8" fill="#050b17" />
<circle cx="144.9" cy="385.1" r="0.8" fill="#8a8a80"/><circle cx="143.8" cy="397.7" r="0.9" fill="#7a7a70"/>
<path d="M170.5,253.9 L119.5,312.9" stroke="#141e2c" stroke-width="0.8" fill="none"/>
<text transform="translate(147.20,305.40) scale(1.000,1)" font-size="14.50" text-anchor="start" fill="#eef0f4" font-weight="normal" font-style="normal" >Cu-BHT</text>
<text transform="translate(22.60,312.80) scale(1.000,1)" font-size="12.30" text-anchor="start" fill="#000" font-weight="normal" font-style="normal" >Drain</text>
<text transform="translate(22.60,357.90) scale(1.000,1)" font-size="14.20" text-anchor="start" fill="#000" font-weight="normal" font-style="normal" >Source</text>
<rect x="175.2" y="413.6" width="79.3" height="3" fill="#e4171b"/>
<text transform="translate(201.40,407.50) scale(1.000,1)" font-size="14.00" text-anchor="start" fill="#e4171b" font-weight="normal" font-style="normal" >100 µm</text>
<path d="M361.4,17.9 H566.8" fill="none" stroke="#5c5c5c" stroke-width="1.50"/>
<path d="M566.8,17.9 V169.0" fill="none" stroke="#a4a4a4" stroke-width="1.00"/>
<line x1="361.4" y1="169.0" x2="361.4" y2="172.6" stroke="#2b2b2b" stroke-width="1.2"/>
<line x1="402.5" y1="169.0" x2="402.5" y2="172.6" stroke="#2b2b2b" stroke-width="1.2"/>
<line x1="443.6" y1="169.0" x2="443.6" y2="172.6" stroke="#2b2b2b" stroke-width="1.2"/>
<line x1="484.6" y1="169.0" x2="484.6" y2="172.6" stroke="#2b2b2b" stroke-width="1.2"/>
<line x1="525.7" y1="169.0" x2="525.7" y2="172.6" stroke="#2b2b2b" stroke-width="1.2"/>
<line x1="566.8" y1="169.0" x2="566.8" y2="172.6" stroke="#2b2b2b" stroke-width="1.2"/>
<line x1="381.9" y1="169.0" x2="381.9" y2="171.6" stroke="#2b2b2b" stroke-width="1.1"/>
<line x1="423.0" y1="169.0" x2="423.0" y2="171.6" stroke="#2b2b2b" stroke-width="1.1"/>
<line x1="464.1" y1="169.0" x2="464.1" y2="171.6" stroke="#2b2b2b" stroke-width="1.1"/>
<line x1="505.2" y1="169.0" x2="505.2" y2="171.6" stroke="#2b2b2b" stroke-width="1.1"/>
<line x1="546.3" y1="169.0" x2="546.3" y2="171.6" stroke="#2b2b2b" stroke-width="1.1"/>
<line x1="361.4" y1="148.6" x2="357.8" y2="148.6" stroke="#2b2b2b" stroke-width="1.2"/>
<line x1="361.4" y1="118.5" x2="357.8" y2="118.5" stroke="#2b2b2b" stroke-width="1.2"/>
<line x1="361.4" y1="88.4" x2="357.8" y2="88.4" stroke="#2b2b2b" stroke-width="1.2"/>
<line x1="361.4" y1="58.3" x2="357.8" y2="58.3" stroke="#2b2b2b" stroke-width="1.2"/>
<line x1="361.4" y1="28.2" x2="357.8" y2="28.2" stroke="#2b2b2b" stroke-width="1.2"/>
<line x1="361.4" y1="163.7" x2="358.8" y2="163.7" stroke="#2b2b2b" stroke-width="1.1"/>
<line x1="361.4" y1="133.6" x2="358.8" y2="133.6" stroke="#2b2b2b" stroke-width="1.1"/>
<line x1="361.4" y1="103.5" x2="358.8" y2="103.5" stroke="#2b2b2b" stroke-width="1.1"/>
<line x1="361.4" y1="73.4" x2="358.8" y2="73.4" stroke="#2b2b2b" stroke-width="1.1"/>
<line x1="361.4" y1="43.3" x2="358.8" y2="43.3" stroke="#2b2b2b" stroke-width="1.1"/>
<path d="M361.4,17.9 V169.0 H566.8" fill="none" stroke="#2b2b2b" stroke-width="1.60"/>
<text x="361.40" y="189.90" font-size="16.80" text-anchor="middle">−60</text>
<text x="402.48" y="189.90" font-size="16.80" text-anchor="middle">−40</text>
<text x="443.56" y="189.90" font-size="16.80" text-anchor="middle">−20</text>
<text x="484.64" y="189.90" font-size="16.80" text-anchor="middle">0</text>
<text x="525.72" y="189.90" font-size="16.80" text-anchor="middle">20</text>
<text x="566.80" y="189.90" font-size="16.80" text-anchor="middle">40</text>
<text x="353.26" y="153.36" font-size="16.80" fill="#000" text-anchor="end">30</text>
<text x="353.26" y="123.08" font-size="16.80" fill="#000" text-anchor="end">60</text>
<text x="353.26" y="92.80" font-size="16.80" fill="#000" text-anchor="end">90</text>
<text x="353.26" y="62.52" font-size="16.80" fill="#000" text-anchor="end">120</text>
<text x="353.26" y="32.23" font-size="16.80" fill="#000" text-anchor="end">150</text>
<path d="M693.0,17.4 H898.5" fill="none" stroke="#5a5a5a" stroke-width="1.15"/>
<path d="M898.5,17.4 V168.5" fill="none" stroke="#5a5a5a" stroke-width="1.15"/>
<line x1="693.0" y1="168.5" x2="693.0" y2="172.1" stroke="#2b2b2b" stroke-width="1.2"/>
<line x1="734.1" y1="168.5" x2="734.1" y2="172.1" stroke="#2b2b2b" stroke-width="1.2"/>
<line x1="775.2" y1="168.5" x2="775.2" y2="172.1" stroke="#2b2b2b" stroke-width="1.2"/>
<line x1="816.3" y1="168.5" x2="816.3" y2="172.1" stroke="#2b2b2b" stroke-width="1.2"/>
<line x1="857.4" y1="168.5" x2="857.4" y2="172.1" stroke="#2b2b2b" stroke-width="1.2"/>
<line x1="898.5" y1="168.5" x2="898.5" y2="172.1" stroke="#2b2b2b" stroke-width="1.2"/>
<line x1="713.5" y1="168.5" x2="713.5" y2="171.1" stroke="#2b2b2b" stroke-width="1.1"/>
<line x1="754.6" y1="168.5" x2="754.6" y2="171.1" stroke="#2b2b2b" stroke-width="1.1"/>
<line x1="795.8" y1="168.5" x2="795.8" y2="171.1" stroke="#2b2b2b" stroke-width="1.1"/>
<line x1="836.9" y1="168.5" x2="836.9" y2="171.1" stroke="#2b2b2b" stroke-width="1.1"/>
<line x1="878.0" y1="168.5" x2="878.0" y2="171.1" stroke="#2b2b2b" stroke-width="1.1"/>
<line x1="693.0" y1="142.3" x2="689.4" y2="142.3" stroke="#2b2b2b" stroke-width="1.2"/>
<line x1="693.0" y1="102.6" x2="689.4" y2="102.6" stroke="#2b2b2b" stroke-width="1.2"/>
<line x1="693.0" y1="63.0" x2="689.4" y2="63.0" stroke="#2b2b2b" stroke-width="1.2"/>
<line x1="693.0" y1="23.3" x2="689.4" y2="23.3" stroke="#2b2b2b" stroke-width="1.2"/>
<line x1="693.0" y1="162.1" x2="690.4" y2="162.1" stroke="#2b2b2b" stroke-width="1.1"/>
<line x1="693.0" y1="122.5" x2="690.4" y2="122.5" stroke="#2b2b2b" stroke-width="1.1"/>
<line x1="693.0" y1="82.8" x2="690.4" y2="82.8" stroke="#2b2b2b" stroke-width="1.1"/>
<line x1="693.0" y1="43.1" x2="690.4" y2="43.1" stroke="#2b2b2b" stroke-width="1.1"/>
<path d="M693.0,17.4 V168.5 H898.5" fill="none" stroke="#2b2b2b" stroke-width="1.60"/>
<text x="693.00" y="190.00" font-size="16.80" text-anchor="middle">−40</text>
<text x="734.10" y="190.00" font-size="16.80" text-anchor="middle">−20</text>
<text x="775.20" y="190.00" font-size="16.80" text-anchor="middle">0</text>
<text x="816.30" y="190.00" font-size="16.80" text-anchor="middle">20</text>
<text x="857.40" y="190.00" font-size="16.80" text-anchor="middle">40</text>
<text x="898.50" y="190.00" font-size="16.80" text-anchor="middle">60</text>
<text x="683.66" y="146.38" font-size="16.80" fill="#000" text-anchor="end">30</text>
<text x="683.66" y="107.48" font-size="16.80" fill="#000" text-anchor="end">60</text>
<text x="683.66" y="68.58" font-size="16.80" fill="#000" text-anchor="end">90</text>
<text x="683.66" y="29.68" font-size="16.80" fill="#000" text-anchor="end">120</text>
<path d="M360.6,250.5 H565.4" fill="none" stroke="#8a8a8a" stroke-width="1.20"/>
<path d="M565.4,250.5 V401.8" fill="none" stroke="#8e8e8e" stroke-width="1.00"/>
<line x1="360.6" y1="401.8" x2="360.6" y2="405.4" stroke="#484848" stroke-width="1.2"/>
<line x1="401.6" y1="401.8" x2="401.6" y2="405.4" stroke="#484848" stroke-width="1.2"/>
<line x1="442.5" y1="401.8" x2="442.5" y2="405.4" stroke="#484848" stroke-width="1.2"/>
<line x1="483.5" y1="401.8" x2="483.5" y2="405.4" stroke="#484848" stroke-width="1.2"/>
<line x1="524.4" y1="401.8" x2="524.4" y2="405.4" stroke="#484848" stroke-width="1.2"/>
<line x1="565.4" y1="401.8" x2="565.4" y2="405.4" stroke="#484848" stroke-width="1.2"/>
<line x1="381.1" y1="401.8" x2="381.1" y2="404.4" stroke="#484848" stroke-width="1.1"/>
<line x1="422.0" y1="401.8" x2="422.0" y2="404.4" stroke="#484848" stroke-width="1.1"/>
<line x1="463.0" y1="401.8" x2="463.0" y2="404.4" stroke="#484848" stroke-width="1.1"/>
<line x1="504.0" y1="401.8" x2="504.0" y2="404.4" stroke="#484848" stroke-width="1.1"/>
<line x1="544.9" y1="401.8" x2="544.9" y2="404.4" stroke="#484848" stroke-width="1.1"/>
<line x1="360.6" y1="401.8" x2="357.0" y2="401.8" stroke="#484848" stroke-width="1.2"/>
<line x1="360.6" y1="360.1" x2="357.0" y2="360.1" stroke="#484848" stroke-width="1.2"/>
<line x1="360.6" y1="318.3" x2="357.0" y2="318.3" stroke="#484848" stroke-width="1.2"/>
<line x1="360.6" y1="276.6" x2="357.0" y2="276.6" stroke="#484848" stroke-width="1.2"/>
<line x1="360.6" y1="380.9" x2="358.0" y2="380.9" stroke="#484848" stroke-width="1.1"/>
<line x1="360.6" y1="339.2" x2="358.0" y2="339.2" stroke="#484848" stroke-width="1.1"/>
<line x1="360.6" y1="297.5" x2="358.0" y2="297.5" stroke="#484848" stroke-width="1.1"/>
<line x1="360.6" y1="255.7" x2="358.0" y2="255.7" stroke="#484848" stroke-width="1.1"/>
<path d="M360.6,250.5 V401.8 H565.4" fill="none" stroke="#484848" stroke-width="1.35"/>
<text x="360.60" y="424.80" font-size="16.80" text-anchor="middle">0.0</text>
<text x="401.56" y="424.80" font-size="16.80" text-anchor="middle">−0.2</text>
<text x="442.52" y="424.80" font-size="16.80" text-anchor="middle">−0.4</text>
<text x="483.48" y="424.80" font-size="16.80" text-anchor="middle">−0.6</text>
<text x="524.44" y="424.80" font-size="16.80" text-anchor="middle">−0.8</text>
<text x="565.40" y="424.80" font-size="16.80" text-anchor="middle">−1.0</text>
<text x="353.76" y="406.78" font-size="16.80" fill="#000" text-anchor="end">0</text>
<text x="353.76" y="365.05" font-size="16.80" fill="#000" text-anchor="end">−40</text>
<text x="353.76" y="323.32" font-size="16.80" fill="#000" text-anchor="end">−80</text>
<text x="353.76" y="281.58" font-size="16.80" fill="#000" text-anchor="end">−120</text>
<path d="M693.5,249.7 H898.3" fill="none" stroke="#444444" stroke-width="1.20"/>
<path d="M898.3,249.7 V400.6" fill="none" stroke="#505050" stroke-width="1.20"/>
<line x1="693.5" y1="400.6" x2="693.5" y2="404.2" stroke="#2b2b2b" stroke-width="1.2"/>
<line x1="734.4" y1="400.6" x2="734.4" y2="404.2" stroke="#2b2b2b" stroke-width="1.2"/>
<line x1="775.3" y1="400.6" x2="775.3" y2="404.2" stroke="#2b2b2b" stroke-width="1.2"/>
<line x1="816.3" y1="400.6" x2="816.3" y2="404.2" stroke="#2b2b2b" stroke-width="1.2"/>
<line x1="857.2" y1="400.6" x2="857.2" y2="404.2" stroke="#2b2b2b" stroke-width="1.2"/>
<line x1="898.1" y1="400.6" x2="898.1" y2="404.2" stroke="#2b2b2b" stroke-width="1.2"/>
<line x1="714.0" y1="400.6" x2="714.0" y2="403.2" stroke="#2b2b2b" stroke-width="1.1"/>
<line x1="754.9" y1="400.6" x2="754.9" y2="403.2" stroke="#2b2b2b" stroke-width="1.1"/>
<line x1="795.8" y1="400.6" x2="795.8" y2="403.2" stroke="#2b2b2b" stroke-width="1.1"/>
<line x1="836.7" y1="400.6" x2="836.7" y2="403.2" stroke="#2b2b2b" stroke-width="1.1"/>
<line x1="877.6" y1="400.6" x2="877.6" y2="403.2" stroke="#2b2b2b" stroke-width="1.1"/>
<line x1="693.5" y1="400.5" x2="689.9" y2="400.5" stroke="#2b2b2b" stroke-width="1.2"/>
<line x1="693.5" y1="360.2" x2="689.9" y2="360.2" stroke="#2b2b2b" stroke-width="1.2"/>
<line x1="693.5" y1="319.9" x2="689.9" y2="319.9" stroke="#2b2b2b" stroke-width="1.2"/>
<line x1="693.5" y1="279.6" x2="689.9" y2="279.6" stroke="#2b2b2b" stroke-width="1.2"/>
<line x1="693.5" y1="380.4" x2="690.9" y2="380.4" stroke="#2b2b2b" stroke-width="1.1"/>
<line x1="693.5" y1="340.1" x2="690.9" y2="340.1" stroke="#2b2b2b" stroke-width="1.1"/>
<line x1="693.5" y1="299.8" x2="690.9" y2="299.8" stroke="#2b2b2b" stroke-width="1.1"/>
<line x1="693.5" y1="259.4" x2="690.9" y2="259.4" stroke="#2b2b2b" stroke-width="1.1"/>
<path d="M693.5,249.7 V400.6 H898.3" fill="none" stroke="#2b2b2b" stroke-width="1.40"/>
<text x="697.00" y="425.00" font-size="16.80" text-anchor="middle">0.0</text>
<text x="737.92" y="425.00" font-size="16.80" text-anchor="middle">0.2</text>
<text x="778.84" y="425.00" font-size="16.80" text-anchor="middle">0.4</text>
<text x="819.76" y="425.00" font-size="16.80" text-anchor="middle">0.6</text>
<text x="860.68" y="425.00" font-size="16.80" text-anchor="middle">0.8</text>
<text x="901.60" y="425.00" font-size="16.80" text-anchor="middle">1.0</text>
<text x="684.56" y="405.98" font-size="16.80" fill="#000" text-anchor="end">0</text>
<text x="684.56" y="365.68" font-size="16.80" fill="#000" text-anchor="end">40</text>
<text x="684.56" y="325.38" font-size="16.80" fill="#000" text-anchor="end">80</text>
<text x="684.56" y="285.08" font-size="16.80" fill="#000" text-anchor="end">120</text>
<path d="M361.60,32.60 C362.15,32.47 363.90,31.75 364.90,31.80 C365.90,31.85 366.60,32.30 367.60,32.90 C368.60,33.50 369.80,34.57 370.90,35.40 C372.00,36.23 373.10,37.00 374.20,37.90 C375.30,38.80 376.42,39.90 377.50,40.80 C378.58,41.70 379.88,42.93 380.70,43.30 C381.52,43.67 381.85,43.13 382.40,43.00 C382.95,42.87 383.37,42.32 384.00,42.50 C384.63,42.68 385.38,43.33 386.20,44.10 C387.02,44.87 388.00,46.10 388.90,47.10 C389.80,48.10 390.78,49.42 391.60,50.10 C392.42,50.78 393.07,50.87 393.80,51.20 C394.53,51.53 395.27,51.47 396.00,52.10 C396.73,52.73 397.47,53.88 398.20,55.00 C398.93,56.12 399.68,57.53 400.40,58.80 C401.12,60.07 401.78,61.83 402.50,62.60 C403.22,63.37 403.97,63.15 404.70,63.40 C405.43,63.65 405.98,63.68 406.90,64.10 C407.82,64.52 409.28,65.78 410.20,65.90 C411.12,66.02 411.68,64.75 412.40,64.80 C413.12,64.85 413.78,66.02 414.50,66.20 C415.22,66.38 415.82,65.33 416.70,65.90 C417.58,66.47 418.88,68.48 419.80,69.60 C420.72,70.72 421.20,71.80 422.20,72.60 C423.20,73.40 424.60,73.97 425.80,74.40 C427.00,74.83 428.30,74.90 429.40,75.20 C430.50,75.50 431.50,75.73 432.40,76.20 C433.30,76.67 434.00,77.40 434.80,78.00 C435.60,78.60 436.30,79.20 437.20,79.80 C438.10,80.40 439.10,80.80 440.20,81.60 C441.30,82.40 442.80,83.90 443.80,84.60 C444.80,85.30 445.40,85.10 446.20,85.80 C447.00,86.50 447.80,87.90 448.60,88.80 C449.40,89.70 450.20,90.40 451.00,91.20 C451.80,92.00 452.60,92.80 453.40,93.60 C454.20,94.40 455.00,95.35 455.80,96.00 C456.60,96.65 457.50,96.90 458.20,97.50 C458.90,98.10 459.40,98.85 460.00,99.60 C460.60,100.35 461.20,101.70 461.80,102.00 C462.40,102.30 463.00,101.20 463.60,101.40 C464.20,101.60 464.70,102.50 465.40,103.20 C466.10,103.90 467.00,104.90 467.80,105.60 C468.60,106.30 469.40,107.10 470.20,107.40 C471.00,107.70 471.90,107.20 472.60,107.40 C473.30,107.60 473.82,108.05 474.40,108.60 C474.98,109.15 475.30,109.85 476.10,110.70 C476.90,111.55 478.18,112.63 479.20,113.70 C480.22,114.77 481.18,116.20 482.20,117.10 C483.22,118.00 484.28,118.27 485.30,119.10 C486.32,119.93 487.42,120.70 488.30,122.10 C489.18,123.50 489.83,125.97 490.60,127.50 C491.37,129.03 491.88,129.90 492.90,131.30 C493.92,132.70 495.55,134.25 496.70,135.90 C497.85,137.55 498.78,139.55 499.80,141.20 C500.82,142.85 501.78,144.40 502.80,145.80 C503.82,147.20 504.88,148.78 505.90,149.60 C506.92,150.42 507.77,150.37 508.90,150.70 C510.03,151.03 511.55,151.15 512.70,151.60 C513.85,152.05 514.77,152.53 515.80,153.40 C516.83,154.27 517.75,155.65 518.90,156.80 C520.05,157.95 521.57,159.33 522.70,160.30 C523.83,161.27 524.68,162.07 525.70,162.60 C526.72,163.13 527.95,163.32 528.80,163.50 C529.65,163.68 529.87,164.07 530.80,163.70 C531.73,163.33 533.20,161.77 534.40,161.30 C535.60,160.83 536.80,161.30 538.00,160.90 C539.20,160.50 540.40,159.50 541.60,158.90 C542.80,158.30 544.20,157.77 545.20,157.30 C546.20,156.83 546.80,157.10 547.60,156.10 C548.40,155.10 549.00,153.70 550.00,151.30 C551.00,148.90 552.60,145.32 553.60,141.70 C554.60,138.08 555.20,133.62 556.00,129.60 C556.80,125.58 557.40,122.40 558.40,117.60 C559.40,112.80 560.80,106.80 562.00,100.80 C563.20,94.80 564.78,87.15 565.60,81.60 C566.42,76.05 566.68,69.85 566.90,67.50" fill="none" stroke="#111" stroke-width="1.7" stroke-linejoin="round"/>
<path d="M693.10,57.00 C693.35,57.82 694.13,60.32 694.60,61.90 C695.07,63.48 695.47,65.18 695.90,66.50 C696.33,67.82 696.65,68.92 697.20,69.80 C697.75,70.68 698.65,71.03 699.20,71.80 C699.75,72.57 700.07,73.20 700.50,74.40 C700.93,75.60 701.45,77.40 701.80,79.00 C702.15,80.60 702.35,81.70 702.60,84.00 C702.85,86.30 703.02,89.25 703.30,92.80 C703.58,96.35 703.95,100.80 704.30,105.30 C704.65,109.80 705.05,115.65 705.40,119.80 C705.75,123.95 705.88,127.08 706.40,130.20 C706.92,133.32 707.80,135.73 708.50,138.50 C709.20,141.27 709.92,144.03 710.60,146.80 C711.28,149.57 711.92,153.20 712.60,155.10 C713.28,157.00 713.83,157.58 714.70,158.20 C715.57,158.82 716.77,159.05 717.80,158.80 C718.83,158.55 720.03,156.70 720.90,156.70 C721.77,156.70 722.13,158.22 723.00,158.80 C723.87,159.38 725.07,160.20 726.10,160.20 C727.13,160.20 728.17,158.97 729.20,158.80 C730.23,158.63 731.25,159.03 732.30,159.20 C733.35,159.37 734.45,159.58 735.50,159.80 C736.55,160.02 737.65,160.83 738.60,160.50 C739.55,160.17 740.23,159.15 741.20,157.80 C742.17,156.45 743.28,154.17 744.40,152.40 C745.52,150.63 746.75,148.73 747.90,147.20 C749.05,145.67 749.85,144.37 751.30,143.20 C752.75,142.03 754.85,141.20 756.60,140.20 C758.35,139.20 760.07,138.37 761.80,137.20 C763.53,136.03 765.68,134.58 767.00,133.20 C768.32,131.82 768.82,130.78 769.70,128.90 C770.58,127.02 771.28,124.38 772.30,121.90 C773.32,119.42 774.63,116.47 775.80,114.00 C776.97,111.53 778.28,108.55 779.30,107.10 C780.32,105.65 781.03,106.33 781.90,105.30 C782.77,104.27 783.63,102.35 784.50,100.90 C785.37,99.45 786.08,97.62 787.10,96.60 C788.12,95.58 789.43,95.33 790.60,94.80 C791.77,94.27 792.93,94.00 794.10,93.40 C795.27,92.80 796.58,92.20 797.60,91.20 C798.62,90.20 799.32,88.58 800.20,87.40 C801.08,86.22 801.92,85.08 802.90,84.10 C803.88,83.12 805.02,82.37 806.10,81.50 C807.18,80.63 808.20,79.83 809.40,78.90 C810.60,77.97 811.98,76.67 813.30,75.90 C814.62,75.13 816.08,74.88 817.30,74.30 C818.52,73.72 819.62,73.05 820.60,72.40 C821.58,71.75 822.22,71.00 823.20,70.40 C824.18,69.80 825.52,69.13 826.50,68.80 C827.48,68.47 828.35,68.40 829.10,68.40 C829.85,68.40 830.35,69.02 831.00,68.80 C831.65,68.58 832.33,67.45 833.00,67.10 C833.67,66.75 834.35,66.92 835.00,66.70 C835.65,66.48 836.25,66.10 836.90,65.80 C837.55,65.50 838.23,65.33 838.90,64.90 C839.57,64.47 840.25,63.70 840.90,63.20 C841.55,62.70 842.15,62.05 842.80,61.90 C843.45,61.75 844.03,62.30 844.80,62.30 C845.57,62.30 846.53,62.35 847.40,61.90 C848.27,61.45 849.17,60.40 850.00,59.60 C850.83,58.80 851.58,57.72 852.40,57.10 C853.22,56.48 853.93,56.45 854.90,55.90 C855.87,55.35 857.02,54.58 858.20,53.80 C859.38,53.02 860.63,52.12 862.00,51.20 C863.37,50.28 865.03,49.23 866.40,48.30 C867.77,47.37 869.02,46.45 870.20,45.60 C871.38,44.75 872.58,43.75 873.50,43.20 C874.42,42.65 874.98,42.23 875.70,42.30 C876.42,42.37 877.17,43.33 877.80,43.60 C878.43,43.87 878.77,44.15 879.50,43.90 C880.23,43.65 881.30,42.88 882.20,42.10 C883.10,41.32 884.08,40.03 884.90,39.20 C885.72,38.37 886.28,37.62 887.10,37.10 C887.92,36.58 888.98,36.50 889.80,36.10 C890.62,35.70 891.27,35.40 892.00,34.70 C892.73,34.00 893.47,33.00 894.20,31.90 C894.93,30.80 895.72,29.22 896.40,28.10 C897.08,26.98 897.98,25.68 898.30,25.20" fill="none" stroke="#111" stroke-width="1.7" stroke-linejoin="round"/>
<path d="M360.60,401.80 Q463.00,393.35 565.40,369.90" fill="none" stroke="#f4b860" stroke-width="1.00" opacity="0.8" transform="translate(0,-1.4)"/>
<path d="M360.60,401.80 Q463.00,393.35 565.40,369.90" fill="none" stroke="#e2409c" stroke-width="1.90" />
<path d="M360.60,401.80 Q463.00,393.35 565.40,369.90" fill="none" stroke="#c8304a" stroke-width="0.70" />
<path d="M360.60,401.80 Q463.00,389.15 565.40,363.80" fill="none" stroke="#2c2cae" stroke-width="1.15" />
<path d="M360.60,401.80 Q463.00,372.05 565.40,312.10" fill="none" stroke="#6640d4" stroke-width="1.15" />
<path d="M360.60,401.80 Q463.00,361.15 565.40,285.50" fill="none" stroke="#c43a3a" stroke-width="1.15" />
<path d="M360.60,401.80 Q463.00,351.45 565.40,261.30" fill="none" stroke="#252525" stroke-width="1.20" />
<path d="M551.3,382.9 L553.0,376.5" stroke="#111" stroke-width="1.2"/><polygon points="553.6,373.1 551.6,378.0 554.8,378.5" fill="#111"/>
<text x="530.83" y="397.30" font-size="14.00" fill="#000">10 V</text>
<text x="612.07" y="264.60" font-size="17.00" fill="#000" text-anchor="end">−30 V</text>
<text x="612.07" y="288.00" font-size="17.00" fill="#000" text-anchor="end">−20 V</text>
<text x="612.07" y="315.60" font-size="17.00" fill="#000" text-anchor="end">40 V</text>
<text x="612.07" y="364.50" font-size="17.00" fill="#000" text-anchor="end">−10 V</text>
<text x="612.07" y="379.20" font-size="17.00" fill="#000" text-anchor="end">30 V</text>
<path d="M693.50,400.60 C701.25,400.57 722.25,400.50 740.00,400.40 C757.75,400.30 780.00,400.27 800.00,400.00 C820.00,399.73 846.67,399.17 860.00,398.80 C873.33,398.43 873.62,398.22 880.00,397.80 C886.38,397.38 895.25,396.55 898.30,396.30" fill="none" stroke="#e8a850" stroke-width="1.5"/>
<path d="M693.50,400.60 C699.58,400.43 716.50,400.10 730.00,399.60 C743.50,399.10 759.50,398.37 774.50,397.60 C789.50,396.83 805.75,395.93 820.00,395.00 C834.25,394.07 846.95,392.88 860.00,392.00 C873.05,391.12 891.92,390.08 898.30,389.70" fill="none" stroke="#d048d0" stroke-width="1.5"/>
<path d="M693.50,400.60 C699.58,400.33 718.92,399.72 730.00,399.00 C741.08,398.28 752.58,397.20 760.00,396.30 C767.42,395.40 769.50,394.65 774.50,393.60 C779.50,392.55 784.92,391.00 790.00,390.00 C795.08,389.00 800.53,388.25 805.00,387.60 C809.47,386.95 810.97,386.52 816.80,386.10 C822.63,385.68 832.80,385.42 840.00,385.10 C847.20,384.78 853.33,384.65 860.00,384.20 C866.67,383.75 873.62,383.13 880.00,382.40 C886.38,381.67 895.25,380.23 898.30,379.80" fill="none" stroke="#30309e" stroke-width="1.3"/>
<path d="M693.50,400.60 Q795.90,377.80 898.30,327.60" fill="none" stroke="#6640d4" stroke-width="1.15" />
<path d="M693.50,400.60 Q795.90,366.60 898.30,297.20" fill="none" stroke="#c43a3a" stroke-width="1.15" />
<path d="M693.50,400.60 Q795.90,350.00 898.30,260.30" fill="none" stroke="#252525" stroke-width="1.20" />
<text x="911.38" y="265.80" font-size="16.30" fill="#000">30 V</text>
<text x="911.18" y="300.00" font-size="16.30" fill="#000">20 V</text>
<text x="901.40" y="331.90" font-size="16.30" fill="#000">−40 V</text>
<text x="912.16" y="378.30" font-size="16.30" fill="#000">10 V</text>
<text x="901.50" y="390.40" font-size="16.30" fill="#000">−10 V</text>
<text x="901.50" y="402.70" font-size="16.30" fill="#000">−30 V</text>
<text x="436.97" y="210.40" font-size="16.60" fill="#000" font-style="italic">V</text><text x="446.61" y="215.20" font-size="11.80" fill="#000">GS</text><text x="468.77" y="210.40" font-size="16.60" fill="#000">(V)</text>
<text x="768.97" y="210.50" font-size="16.60" fill="#000" font-style="italic">V</text><text x="778.81" y="215.30" font-size="11.80" fill="#000">GS</text><text x="800.77" y="210.50" font-size="16.60" fill="#000">(V)</text>
<text x="440.47" y="449.10" font-size="16.60" fill="#000" font-style="italic">V</text><text x="450.23" y="453.90" font-size="11.80" fill="#000">DS</text><text x="471.57" y="449.10" font-size="16.60" fill="#000">(V)</text>
<text x="774.57" y="449.10" font-size="16.60" fill="#000" font-style="italic">V</text><text x="784.63" y="453.90" font-size="11.80" fill="#000">DS</text><text x="805.67" y="449.10" font-size="16.60" fill="#000">(V)</text>
<text transform="translate(310.40,129.10) rotate(-90)" font-size="16.20">|</text><text transform="translate(310.40,124.89) rotate(-90)" font-size="16.20" font-style="italic">I</text><text transform="translate(315.50,121.40) rotate(-90)" font-size="12.00">DS</text><text transform="translate(310.40,101.40) rotate(-90)" font-size="16.20">|</text><text transform="translate(310.40,92.60) rotate(-90)" font-size="15.60">(µA)</text>
<text transform="translate(643.70,128.80) rotate(-90)" font-size="16.20">|</text><text transform="translate(643.70,124.59) rotate(-90)" font-size="16.20" font-style="italic">I</text><text transform="translate(648.80,121.10) rotate(-90)" font-size="12.00">DS</text><text transform="translate(643.70,101.10) rotate(-90)" font-size="16.20">|</text><text transform="translate(643.70,92.30) rotate(-90)" font-size="15.60">(µA)</text>
<text transform="translate(310.40,353.70) rotate(-90)" font-size="16.20">|</text><text transform="translate(310.40,349.49) rotate(-90)" font-size="16.20" font-style="italic">I</text><text transform="translate(315.50,346.00) rotate(-90)" font-size="12.00">DS</text><text transform="translate(310.40,326.00) rotate(-90)" font-size="16.20">|</text><text transform="translate(310.40,317.20) rotate(-90)" font-size="15.60">(µA)</text>
<text transform="translate(643.70,353.70) rotate(-90)" font-size="16.20">|</text><text transform="translate(643.70,349.49) rotate(-90)" font-size="16.20" font-style="italic">I</text><text transform="translate(648.80,346.00) rotate(-90)" font-size="12.00">DS</text><text transform="translate(643.70,326.00) rotate(-90)" font-size="16.20">|</text><text transform="translate(643.70,317.20) rotate(-90)" font-size="15.60">(µA)</text>
<text x="425.13" y="38.50" font-size="14.80" fill="#000">V</text><text x="434.18" y="42.70" font-size="11.20" fill="#000">DS</text><text x="452.28" y="38.50" font-size="14.80" fill="#000">=</text><text x="464.07" y="38.50" font-size="14.80" fill="#000">−</text><text x="472.97" y="38.50" font-size="14.80" fill="#000">1</text><text x="485.03" y="38.50" font-size="14.80" fill="#000">V</text>
<text x="749.39" y="43.80" font-size="15.20" fill="#000" font-style="italic">V</text><text x="757.83" y="47.10" font-size="10.60" fill="#000">DS</text><text x="775.26" y="43.80" font-size="15.20" fill="#000">=</text><text x="788.44" y="43.80" font-size="15.20" fill="#000">1</text><text x="800.03" y="43.80" font-size="15.20" fill="#000">V</text>
<text x="371.41" y="155.00" font-size="14.20" fill="#000" font-style="italic">µ</text><text x="378.44" y="158.00" font-size="11.00" fill="#000">h</text><text x="388.61" y="155.00" font-size="14.20" fill="#000">=</text><text x="401.13" y="155.00" font-size="14.20" fill="#000">99</text><text x="420.60" y="155.00" font-size="14.20" fill="#000">cm</text><text x="440.77" y="147.50" font-size="10.60" fill="#000">2</text><text x="449.84" y="155.00" font-size="14.20" fill="#000">V</text><text x="458.42" y="148.00" font-size="9.80" fill="#000">−1</text><text x="474.00" y="155.00" font-size="14.20" fill="#000">s</text><text x="480.72" y="148.00" font-size="9.80" fill="#000">−1</text>
<text x="765.21" y="154.00" font-size="14.20" fill="#000" font-style="italic">µ</text><text x="772.53" y="157.00" font-size="11.00" fill="#000">e</text><text x="782.21" y="154.00" font-size="14.20" fill="#000">=</text><text x="795.92" y="154.00" font-size="14.20" fill="#000">116</text><text x="822.60" y="154.00" font-size="14.20" fill="#000">cm</text><text x="841.97" y="146.50" font-size="10.60" fill="#000">2</text><text x="851.64" y="154.00" font-size="14.20" fill="#000">V</text><text x="860.12" y="147.00" font-size="9.80" fill="#000">−1</text><text x="875.80" y="154.00" font-size="14.20" fill="#000">s</text><text x="882.52" y="147.00" font-size="9.80" fill="#000">−1</text>
</svg></body></html>
